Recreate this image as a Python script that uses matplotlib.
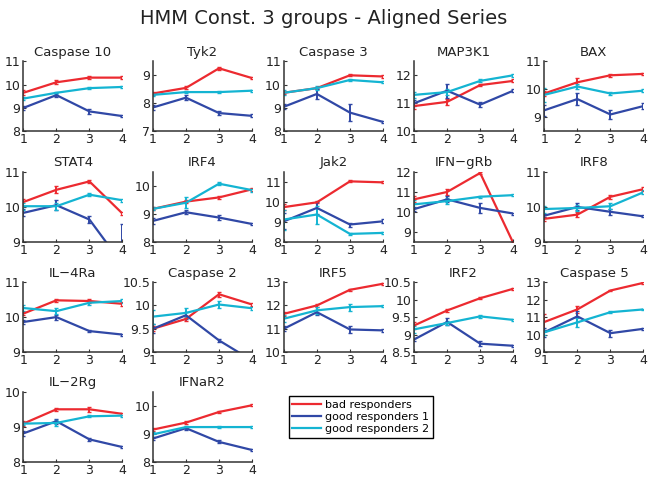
import matplotlib
matplotlib.use("Agg")
import matplotlib.pyplot as plt

# time points and gene names (row by row)
timepoints = [1, 2, 3, 4]
genes = ["Caspase 10", "Tyk2", "Caspase 3", "MAP3K1", "BAX",
         "STAT4", "IRF4", "Jak2", "IFN\u2212gRb", "IRF8",
         "IL\u22124Ra", "Caspase 2", "IRF5", "IRF2", "Caspase 5",
         "IL\u22122Rg", "IFNaR2"]

# mean expression per group
bad = [[9.65, 10.1, 10.3, 10.3], [8.35, 8.55, 9.25, 8.9], [9.65, 9.85, 10.4, 10.35],
       [10.9, 11.05, 11.65, 11.8], [9.85, 10.25, 10.5, 10.55],
       [10.14, 10.49, 10.73, 9.81], [9.18, 9.44, 9.59, 9.88], [9.74, 9.98, 11.03, 10.98],
       [10.63, 11.0, 11.95, 8.45], [9.66, 9.78, 10.29, 10.51],
       [10.1, 10.48, 10.46, 10.38], [9.5, 9.71, 10.24, 10.02], [11.64, 12.0, 12.67, 12.93],
       [9.26, 9.69, 10.04, 10.31], [10.72, 11.44, 12.52, 12.96],
       [9.09, 9.5, 9.5, 9.37], [9.15, 9.4, 9.78, 10.02]]
good1 = [[9.0, 9.55, 8.85, 8.65], [7.85, 8.2, 7.65, 7.55], [9.05, 9.6, 8.8, 8.4],
         [11.0, 11.45, 10.95, 11.45], [9.25, 9.65, 9.1, 9.4],
         [9.83, 10.05, 9.64, 8.36], [8.75, 9.06, 8.87, 8.64], [9.03, 9.7, 8.87, 9.03],
         [10.14, 10.63, 10.2, 9.92], [9.75, 10.0, 9.86, 9.73],
         [9.86, 10.0, 9.6, 9.5], [9.5, 9.79, 9.25, 8.82], [11.0, 11.71, 10.97, 10.93],
         [8.86, 9.36, 8.74, 8.68], [10.13, 11.04, 10.08, 10.33],
         [8.81, 9.16, 8.64, 8.42], [8.83, 9.2, 8.71, 8.42]]
good2 = [[9.4, 9.65, 9.85, 9.9], [8.3, 8.4, 8.4, 8.45], [9.65, 9.85, 10.2, 10.1],
         [11.3, 11.4, 11.8, 12.0], [9.8, 10.1, 9.85, 9.95],
         [10.02, 10.02, 10.35, 10.19], [9.18, 9.4, 10.08, 9.85], [9.12, 9.37, 8.4, 8.45],
         [10.38, 10.54, 10.76, 10.84], [9.94, 9.97, 10.02, 10.42],
         [10.26, 10.17, 10.41, 10.46], [9.76, 9.84, 10.02, 9.94], [11.43, 11.79, 11.93, 11.97],
         [9.15, 9.33, 9.52, 9.42], [10.13, 10.7, 11.28, 11.44],
         [9.09, 9.11, 9.3, 9.32], [8.98, 9.24, 9.24, 9.24]]

# error bar half-lengths
bad_err = [[0.1, 0.08, 0.05, 0.05], [0.05, 0.05, 0.05, 0.05], [0.05, 0.05, 0.05, 0.05],
           [0.1, 0.1, 0.05, 0.05], [0.1, 0.15, 0.05, 0.05],
           [0.1, 0.1, 0.05, 0.05], [0.05, 0.05, 0.05, 0.05], [0.15, 0.05, 0.05, 0.05],
           [0.15, 0.15, 0.05, 0.05], [0.05, 0.08, 0.05, 0.05],
           [0.05, 0.05, 0.05, 0.05], [0.05, 0.05, 0.05, 0.03], [0.1, 0.08, 0.05, 0.05],
           [0.1, 0.05, 0.03, 0.03], [0.45, 0.2, 0.05, 0.05],
           [0.08, 0.05, 0.07, 0.03], [0.05, 0.05, 0.03, 0.03]]
good1_err = [[0.1, 0.1, 0.1, 0.05], [0.1, 0.1, 0.08, 0.05], [0.1, 0.2, 0.35, 0.05],
             [0.1, 0.25, 0.1, 0.05], [0.2, 0.2, 0.15, 0.1],
             [0.1, 0.15, 0.1, 1.15], [0.1, 0.08, 0.08, 0.05], [0.4, 0.3, 0.1, 0.1],
             [0.1, 0.15, 0.25, 0.05], [0.05, 0.1, 0.08, 0.03],
             [0.05, 0.07, 0.03, 0.03], [0.1, 0.08, 0.03, 0.03], [0.1, 0.1, 0.15, 0.05],
             [0.05, 0.1, 0.08, 0.03], [0.25, 0.3, 0.2, 0.05],
             [0.08, 0.07, 0.05, 0.03], [0.05, 0.05, 0.05, 0.03]]
good2_err = [[0.08, 0.05, 0.03, 0.03], [0.05, 0.05, 0.03, 0.03], [0.1, 0.1, 0.05, 0.05],
             [0.1, 0.1, 0.05, 0.05], [0.25, 0.1, 0.05, 0.05],
             [0.1, 0.1, 0.05, 0.05], [0.05, 0.2, 0.05, 0.05], [0.5, 0.45, 0.05, 0.05],
             [0.2, 0.15, 0.05, 0.05], [0.1, 0.08, 0.08, 0.05],
             [0.08, 0.08, 0.05, 0.05], [0.15, 0.1, 0.08, 0.03], [0.15, 0.15, 0.15, 0.05],
             [0.1, 0.05, 0.05, 0.03], [0.15, 0.25, 0.05, 0.05],
             [0.05, 0.08, 0.03, 0.03], [0.1, 0.05, 0.03, 0.03]]

# y-axis ranges and ticks
ylims = [(8, 11), (7, 9.5), (8, 11), (10, 12.5), (8.5, 11),
         (9, 11), (8, 10.5), (8, 11.5), (8.5, 12), (9, 11),
         (9, 11), (9, 10.5), (10, 13), (8.5, 10.5), (9, 13),
         (8, 10), (8, 10.5)]
yticks = [[8, 9, 10, 11], [7, 8, 9], [8, 9, 10, 11], [10, 11, 12], [9, 10, 11],
          [9, 10, 11], [8, 9, 10], [8, 9, 10, 11], [9, 10, 11, 12], [9, 10, 11],
          [9, 10, 11], [9, 9.5, 10, 10.5], [10, 11, 12, 13], [8.5, 9, 9.5, 10, 10.5],
          [9, 10, 11, 12, 13],
          [8, 9, 10], [8, 9, 10]]

labels = ["bad responders", "good responders 1", "good responders 2"]
colors = ["#ec2a30", "#3048a6", "#14b4d2"]

fig = plt.figure(figsize=(6.48, 4.79), dpi=100)
fig.suptitle("HMM Const. 3 groups - Aligned Series", fontsize=14, y=0.982,
             color="#222222")

lefts = [0.036, 0.236, 0.438, 0.639, 0.840]
bottoms = [0.726, 0.495, 0.265, 0.036]
w, h = 0.153, 0.146

handles = []
for i, gene in enumerate(genes):
    ax = fig.add_axes([lefts[i % 5], bottoms[i // 5], w, h])
    series = [(bad[i], bad_err[i]), (good1[i], good1_err[i]), (good2[i], good2_err[i])]
    for (vals, errs), c, lab in zip(series, colors, labels):
        eb = ax.errorbar(timepoints, vals, yerr=errs, color=c, lw=1.6,
                         elinewidth=1.4, capsize=1.5, label=lab)
        if i == 0:
            handles.append(eb.lines[0])
    ax.set_xlim(1, 4)
    ax.set_ylim(*ylims[i])
    ax.set_xticks(timepoints)
    ax.set_yticks(yticks[i])
    ax.set_yticklabels([f"{t:g}" for t in yticks[i]])
    ax.set_title(gene, fontsize=9.5, pad=4, color="#222222")
    for s in ["top", "right"]:
        ax.spines[s].set_visible(False)
    for s in ["left", "bottom"]:
        ax.spines[s].set_color("#333333")
        ax.spines[s].set_linewidth(1.1)
    ax.tick_params(direction="in", length=2.5, labelsize=9, color="#333333",
                   labelcolor="#222222")
    ax.tick_params(axis="x", pad=1.5)
    ax.tick_params(axis="y", pad=2)

fig.legend(handles, labels, loc="upper left", bbox_to_anchor=(0.437, 0.184),
           bbox_transform=fig.transFigure, fontsize=8, fancybox=False,
           edgecolor="black", framealpha=1, handlelength=2.6, borderpad=0.3,
           labelspacing=0.2, handletextpad=0.4)

fig.savefig("out.png", dpi=100)
